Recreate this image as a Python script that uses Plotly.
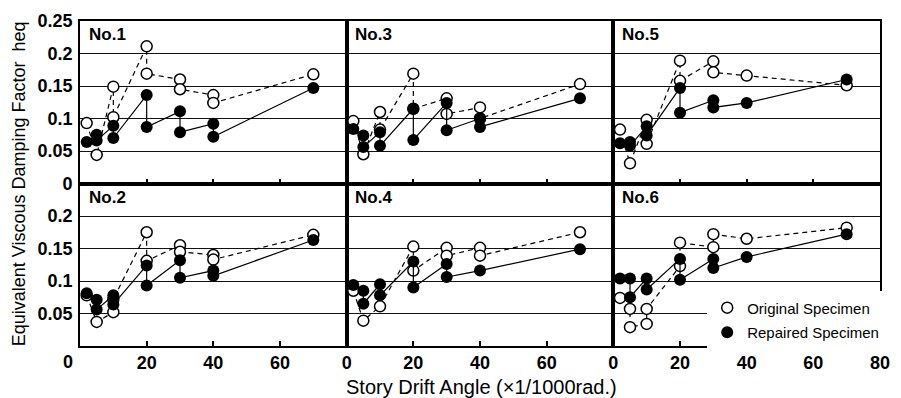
import plotly.graph_objects as go
from plotly.subplots import make_subplots

# ---- data (drift angle x 1/1000 rad, equivalent viscous damping factor heq) ----
orig_x1 = [2, 5, 10, 10, 20, 20, 30, 30, 40, 40, 70]
orig_y1 = [0.093, 0.044, 0.149, 0.102, 0.211, 0.169, 0.160, 0.145, 0.136, 0.124, 0.168]
rep_x1 = [2, 5, 5, 10, 10, 20, 20, 30, 30, 40, 40, 70]
rep_y1 = [0.064, 0.075, 0.066, 0.089, 0.070, 0.136, 0.087, 0.111, 0.079, 0.092, 0.072, 0.147]

orig_x2 = [2, 5, 10, 10, 20, 20, 30, 30, 40, 40, 70]
orig_y2 = [0.078, 0.037, 0.052, 0.072, 0.175, 0.131, 0.155, 0.145, 0.140, 0.133, 0.171]
rep_x2 = [2, 5, 5, 10, 10, 20, 20, 30, 30, 40, 40, 70]
rep_y2 = [0.081, 0.071, 0.056, 0.078, 0.064, 0.124, 0.093, 0.132, 0.105, 0.116, 0.108, 0.163]

orig_x3 = [2, 5, 10, 10, 20, 20, 30, 30, 40, 40, 70]
orig_y3 = [0.096, 0.045, 0.110, 0.083, 0.169, 0.115, 0.131, 0.107, 0.117, 0.100, 0.153]
rep_x3 = [2, 5, 5, 10, 10, 20, 20, 30, 30, 40, 40, 70]
rep_y3 = [0.084, 0.074, 0.056, 0.079, 0.058, 0.115, 0.067, 0.124, 0.082, 0.100, 0.087, 0.131]

orig_x4 = [2, 5, 10, 20, 20, 30, 30, 40, 40, 70]
orig_y4 = [0.085, 0.039, 0.061, 0.153, 0.116, 0.151, 0.139, 0.151, 0.139, 0.175]
rep_x4 = [2, 5, 5, 10, 10, 20, 20, 30, 30, 40, 70]
rep_y4 = [0.094, 0.085, 0.065, 0.095, 0.078, 0.130, 0.090, 0.126, 0.106, 0.116, 0.149]

orig_x5 = [2, 5, 10, 10, 20, 20, 30, 30, 40, 70]
orig_y5 = [0.083, 0.031, 0.098, 0.061, 0.189, 0.158, 0.188, 0.171, 0.166, 0.151]
rep_x5 = [2, 5, 5, 10, 10, 20, 20, 30, 30, 40, 70]
rep_y5 = [0.062, 0.064, 0.058, 0.088, 0.074, 0.147, 0.109, 0.128, 0.117, 0.124, 0.160]

orig_x6 = [2, 5, 5, 10, 10, 20, 20, 30, 30, 40, 70]
orig_y6 = [0.074, 0.057, 0.029, 0.034, 0.057, 0.123, 0.159, 0.152, 0.172, 0.165, 0.182]
rep_x6 = [2, 5, 5, 10, 10, 20, 20, 30, 30, 40, 70]
rep_y6 = [0.104, 0.104, 0.075, 0.104, 0.087, 0.134, 0.102, 0.134, 0.120, 0.137, 0.172]

panel_labels = ["No.1", "No.3", "No.5", "No.2", "No.4", "No.6"]
series_names = ["Original Specimen", "Repaired Specimen"]
x_title = "Story Drift Angle (×1/1000rad.)"
y_title = "Equivalent Viscous Damping Factor  heq"

FONT = "Liberation Sans, Arial, Helvetica, sans-serif"

panels = [
    (1, 1, panel_labels[0], orig_x1, orig_y1, rep_x1, rep_y1),
    (1, 2, panel_labels[1], orig_x3, orig_y3, rep_x3, rep_y3),
    (1, 3, panel_labels[2], orig_x5, orig_y5, rep_x5, rep_y5),
    (2, 1, panel_labels[3], orig_x2, orig_y2, rep_x2, rep_y2),
    (2, 2, panel_labels[4], orig_x4, orig_y4, rep_x4, rep_y4),
    (2, 3, panel_labels[5], orig_x6, orig_y6, rep_x6, rep_y6),
]

fig = make_subplots(rows=2, cols=3, horizontal_spacing=0, vertical_spacing=0)

open_marker = dict(symbol="circle", size=11, color="white", line=dict(color="black", width=1.5))
fill_marker = dict(symbol="circle", size=12, color="black", line=dict(color="black", width=0))

for r, c, name, ox, oy, rx, ry in panels:
    fig.add_trace(go.Scatter(x=ox, y=oy, mode="lines+markers",
                             line=dict(color="black", width=1.2, dash="5px,4px"),
                             marker=open_marker, showlegend=False, hoverinfo="skip"),
                  row=r, col=c)
    fig.add_trace(go.Scatter(x=rx, y=ry, mode="lines+markers",
                             line=dict(color="black", width=1.2),
                             marker=fill_marker, showlegend=False, hoverinfo="skip"),
                  row=r, col=c)
    fig.add_annotation(text=name, xref="x domain", yref="y domain", x=0.025, y=0.985,
                       xanchor="left", yanchor="top", showarrow=False,
                       font=dict(family=FONT, size=17, color="black", weight="bold"),
                       row=r, col=c)

# legend entries (marker only)
fig.add_trace(go.Scatter(x=[None], y=[None], mode="markers", name=series_names[0],
                         marker=open_marker, legendgroup="o"), row=2, col=3)
fig.add_trace(go.Scatter(x=[None], y=[None], mode="markers", name=series_names[1],
                         marker=fill_marker, legendgroup="r"), row=2, col=3)

tickfont = dict(family=FONT, size=18, color="black", weight="bold")

for r in (1, 2):
    for c in (1, 2, 3):
        if r == 2:
            if c == 1:
                xv = [20, 40, 60]
            elif c == 2:
                xv = [0, 20, 40, 60]
            else:
                xv = [0, 20, 40, 60, 80]
            show_x = True
        else:
            xv = [20, 40, 60]
            show_x = False
        fig.update_xaxes(range=[0, 80], tickvals=xv, ticktext=[str(v) for v in xv],
                         showticklabels=show_x, ticks="inside", ticklen=5, tickwidth=1.5,
                         tickcolor="black", showline=True, linewidth=1.6, linecolor="black",
                         mirror=True, showgrid=False, zeroline=False, tickfont=tickfont,
                         ticklabelstandoff=0, row=r, col=c)
        if r == 1:
            yv = [0, 0.05, 0.1, 0.15, 0.2, 0.25]
        else:
            yv = [0.05, 0.1, 0.15, 0.2]
        yt = [("%g" % v) for v in yv]
        fig.update_yaxes(range=[0, 0.25], tickvals=yv, ticktext=yt,
                         showticklabels=(c == 1), ticks="", showline=True, linewidth=1.6,
                         linecolor="black", mirror=True, showgrid=True, gridcolor="#111111",
                         gridwidth=1.2, zeroline=False, tickfont=tickfont,
                         ticklabelstandoff=2, row=r, col=c)

# "0" at the lower-left corner
fig.add_annotation(text="0", xref="paper", yref="paper", x=-0.0148, y=-0.049,
                   xanchor="center", yanchor="middle", showarrow=False,
                   font=tickfont)

fig.add_annotation(text=x_title, xref="paper", yref="paper", x=0.502, y=-0.125,
                   xanchor="center", yanchor="middle", showarrow=False,
                   font=dict(family=FONT, size=20, color="black"))
fig.add_annotation(text=y_title, xref="paper", yref="paper", x=-0.0765, y=0.5,
                   xanchor="center", yanchor="middle", showarrow=False, textangle=-90,
                   font=dict(family=FONT, size=18, color="black"))

fig.update_layout(
    width=901, height=398,
    margin=dict(l=80, r=11, t=20, b=52),
    paper_bgcolor="white", plot_bgcolor="white",
    showlegend=True,
    legend=dict(x=0.784, y=0.168, xanchor="left", yanchor="top",
                bgcolor="white", borderwidth=0, tracegroupgap=2,
                font=dict(family=FONT, size=15, color="black"),
                itemsizing="trace"),
)

fig.write_html("out.html")
